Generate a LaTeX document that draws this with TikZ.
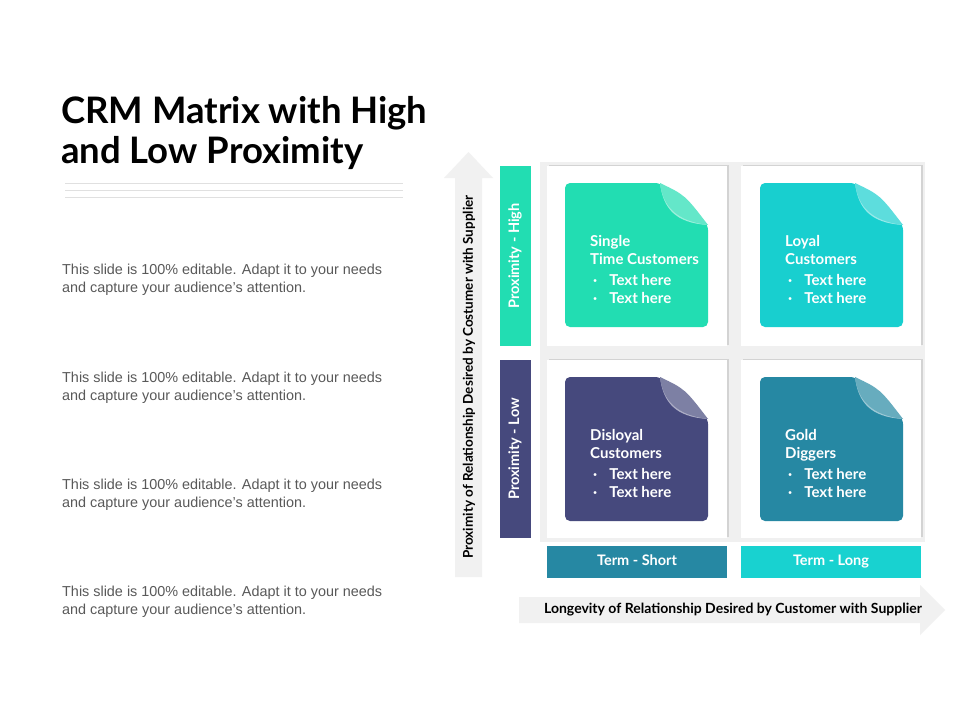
\documentclass[tikz,border=0pt]{standalone}
\usepackage{fontspec}
\setmainfont{Liberation Sans}
\newfontfamily\gfont{Lato}
\usetikzlibrary{shadows}
\definecolor{cA}{HTML}{22DDB2}
\definecolor{cB}{HTML}{18CFCF}
\definecolor{cC}{HTML}{46497D}
\definecolor{cD}{HTML}{2688A3}
\definecolor{cE}{HTML}{18D2D0}
\definecolor{arr}{HTML}{F1F1F1}
\definecolor{txt}{HTML}{595959}
\tikzset{
 para/.style={anchor=north west,align=left,text=txt,font=\fontsize{14.4}{18}\selectfont,inner sep=0},
 cell/.style={fill=white,drop shadow={shadow xshift=1.5pt,shadow yshift=1.5pt,opacity=0.25}},
 ctext/.style={anchor=north west,align=left,text=white,font=\gfont\bfseries\fontsize{15}{18}\selectfont,inner sep=0},
 bartext/.style={text=white,font=\gfont\bfseries\fontsize{14.5}{16}\selectfont,text height=10pt,text depth=3pt},
}
\newcommand{\card}[5]{% x y color name title
 \fill[#3,rounded corners=5pt] (#1,#2) -- (#1+95,#2) -- (#1+143,#2+42) -- (#1+143,#2+144) -- (#1,#2+144) -- cycle;
 \fill[#3!45!white] (#1+95,#2) .. controls (#1+98,#2+25) and (#1+110,#2+40) .. (#1+143,#2+42) -- cycle;
 \fill[#3!70!white] (#1+95,#2) .. controls (#1+120,#2+12) .. (#1+143,#2+42) .. controls (#1+112,#2+38) and (#1+98,#2+24) .. cycle;
 \node[ctext] (#4) at (#1+25,#2+52) {#5\\[3pt]\hspace*{3pt}\textperiodcentered\hspace{12pt}Text here\\\hspace*{3pt}\textperiodcentered\hspace{12pt}Text here};
}
\begin{document}
\begin{tikzpicture}[x=1pt,y=-1pt]
\useasboundingbox (0,0) rectangle (960,720);
\fill[white] (0,0) rectangle (960,720);
\node[anchor=north west,inner sep=0,align=left,font=\gfont\bfseries\fontsize{36.5}{40}\selectfont] (title) at (61,96) {CRM Matrix with High\\and Low Proximity};
\foreach \y in {183,190,197} \draw[black!12,line width=0.6pt] (65,\y) -- (403,\y);
\node[para] (p1) at (62,264) {This slide is 100\% editable. Adapt it to your needs\\and capture your audience’s attention.};
\node[para] (p2) at (62,372) {This slide is 100\% editable. Adapt it to your needs\\and capture your audience’s attention.};
\node[para] (p3) at (62,479) {This slide is 100\% editable. Adapt it to your needs\\and capture your audience’s attention.};
\node[para] (p4) at (62,586) {This slide is 100\% editable. Adapt it to your needs\\and capture your audience’s attention.};
% vertical arrow
\fill[arr] (455,577) -- (455,178) -- (444,178) -- (468.5,152) -- (493,178) -- (482,178) -- (482,577) -- cycle;
\node[rotate=90,font=\gfont\bfseries\fontsize{13.5}{14}\selectfont] (va) at (469,377) {Proximity of Relationship Desired by Costumer with Supplier};
% horizontal arrow
\fill[arr] (519,597) -- (920,597) -- (920,585) -- (945,610) -- (920,635) -- (920,623) -- (519,623) -- cycle;
\node[font=\gfont\bfseries\fontsize{14}{14}\selectfont] (ha) at (733,610) {Longevity of Relationship Desired by Customer with Supplier};
% side bars
\fill[cA] (500,166) rectangle (531,346);
\node[bartext,rotate=90] (ph) at (515.5,256) {Proximity - High};
\fill[cC] (500,360) rectangle (531,538);
\node[bartext,rotate=90] (pl) at (515.5,449) {Proximity - Low};
% background + cells
\fill[black!6] (540,162) rectangle (925,542);
\fill[cell] (547,166) rectangle (727,346);
\fill[cell] (741,166) rectangle (921,346);
\fill[cell] (547,360) rectangle (727,538);
\fill[cell] (741,360) rectangle (921,538);
\card{565}{183}{cA}{c1}{Single\\Time Customers}
\card{760}{183}{cB}{c2}{Loyal\\Customers}
\card{565}{377}{cC}{c3}{Disloyal\\Customers}
\card{760}{377}{cD}{c4}{Gold\\Diggers}
% terms
\fill[cD] (547,546) rectangle (727,578);
\node[bartext] (ts) at (637,562) {Term - Short};
\fill[cE] (741,546) rectangle (921,578);
\node[bartext] (tl) at (831,562) {Term - Long};
\end{tikzpicture}
\end{document}
